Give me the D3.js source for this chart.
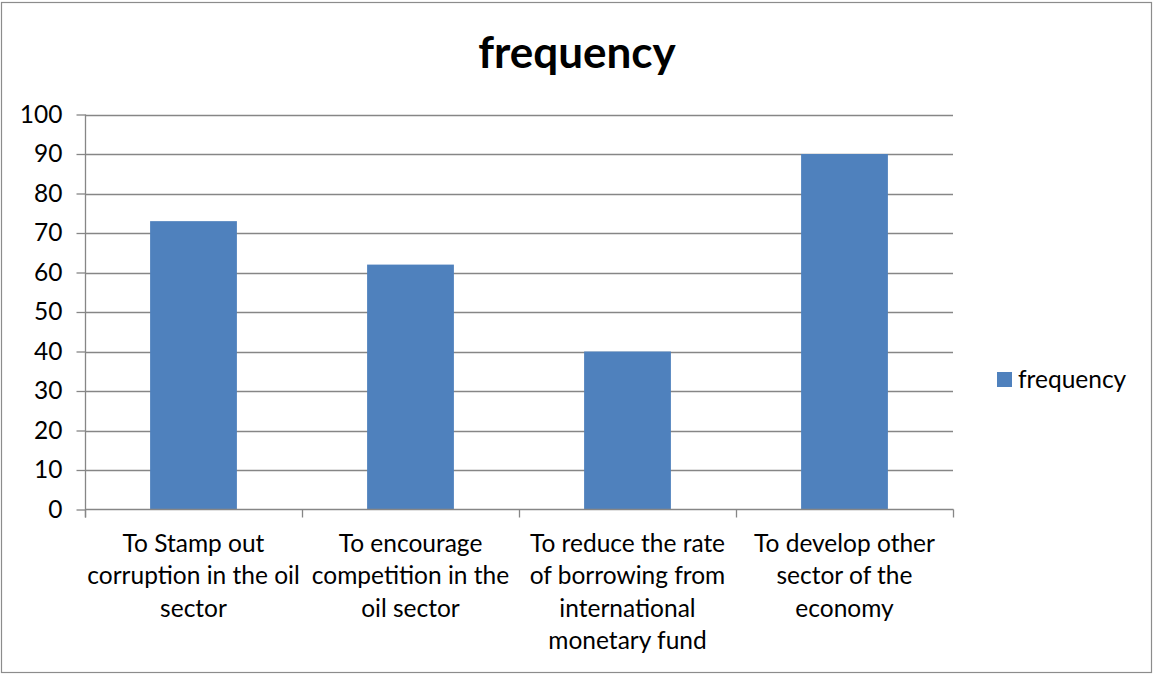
<!DOCTYPE html>
<html>
<head>
<meta charset="utf-8">
<script src="https://cdn.jsdelivr.net/npm/d3@7"></script>
<style>
  html, body { margin: 0; padding: 0; background: #fff; }
  svg { display: block; font-family: Lato, "Liberation Sans", sans-serif; }
</style>
</head>
<body>
<svg id="chart" width="1153" height="674"></svg>
<script>
const categories = [
  ["To Stamp out", "corruption in the oil", "sector"],
  ["To encourage", "competition in the", "oil sector"],
  ["To reduce the rate", "of borrowing from", "international", "monetary fund"],
  ["To develop other", "sector of the", "economy"]
];
const values = [73, 62, 40, 90];
const yTicks = [0, 10, 20, 30, 40, 50, 60, 70, 80, 90, 100];
const seriesName = "frequency";
const title = "frequency";

const svg = d3.select("#chart");
const pLeft = 85, pRight = 953, pTop = 114.5, pBottom = 509.5;
const gridColor = "#868686";
const barColor = "#4F81BD";
const fs = 24.5;

// outer border
svg.append("rect").attr("x", 1.5).attr("y", 2.5).attr("width", 1150).attr("height", 670)
  .attr("fill", "#fff").attr("stroke", "#8c8c8c").attr("stroke-width", 1.2);

const idx = categories.map((d, i) => i);
const x = d3.scaleBand().domain(idx).range([pLeft, pRight]).paddingInner(0.6).paddingOuter(0.3);
const xb = d3.scaleBand().domain(idx).range([pLeft, pRight]);
const y = d3.scaleLinear().domain([0, 100]).range([pBottom, pTop]);

// gridlines
svg.append("g").selectAll("line").data(yTicks.filter(t => t > 0)).join("line")
  .attr("x1", pLeft).attr("x2", pRight)
  .attr("y1", d => Math.round(y(d)) + 0.5).attr("y2", d => Math.round(y(d)) + 0.5)
  .attr("stroke", gridColor).attr("stroke-width", 1.3);

// bars
svg.append("g").selectAll("rect").data(values).join("rect")
  .attr("x", (d, i) => x(i)).attr("width", x.bandwidth())
  .attr("y", d => y(d)).attr("height", d => y(0) - y(d))
  .attr("fill", barColor);

// y axis
const yAxis = d3.axisLeft(y).tickValues(yTicks).tickSize(9).tickPadding(14).tickSizeOuter(0);
const yg = svg.append("g").attr("transform", `translate(${pLeft + 0.5},0)`).call(yAxis);
yg.selectAll(".tick line").attr("stroke", gridColor).attr("stroke-width", 1.3);
yg.select(".domain").attr("stroke", gridColor).attr("stroke-width", 1.3)
  .attr("d", `M0,${pTop}V${pBottom + 8}`);
yg.selectAll("text").attr("font-size", fs).attr("fill", "#000")
  .attr("font-family", "Lato, 'Liberation Sans', sans-serif");

// x axis line and ticks at category boundaries
const xg = svg.append("g");
xg.append("line").attr("x1", pLeft).attr("x2", pRight + 0.5)
  .attr("y1", pBottom).attr("y2", pBottom)
  .attr("stroke", gridColor).attr("stroke-width", 1.3);
const bounds = idx.map(i => xb(i)).concat([pRight]);
xg.selectAll("line.tk").data(bounds).join("line").attr("class", "tk")
  .attr("x1", d => Math.round(d) + 0.5).attr("x2", d => Math.round(d) + 0.5)
  .attr("y1", pBottom).attr("y2", pBottom + 8)
  .attr("stroke", gridColor).attr("stroke-width", 1.3);

// x labels
const lab = svg.append("g").selectAll("text").data(categories).join("text")
  .attr("text-anchor", "middle").attr("font-size", fs).attr("fill", "#000");
lab.each(function(lines, i) {
  const t = d3.select(this);
  lines.forEach((ln, j) => {
    t.append("tspan").attr("x", xb(i) + xb.bandwidth() / 2).attr("y", 552 + j * 32.3).text(ln);
  });
});

// title
svg.append("text").attr("x", 577).attr("y", 68).attr("text-anchor", "middle")
  .attr("font-size", 44).attr("font-weight", "bold").attr("fill", "#000").text(title);

// legend
const lg = svg.append("g");
lg.append("rect").attr("x", 997).attr("y", 372).attr("width", 15).attr("height", 15).attr("fill", barColor);
lg.append("text").attr("x", 1018).attr("y", 388).attr("font-size", fs).attr("fill", "#000").text(seriesName);
</script>
</body>
</html>
